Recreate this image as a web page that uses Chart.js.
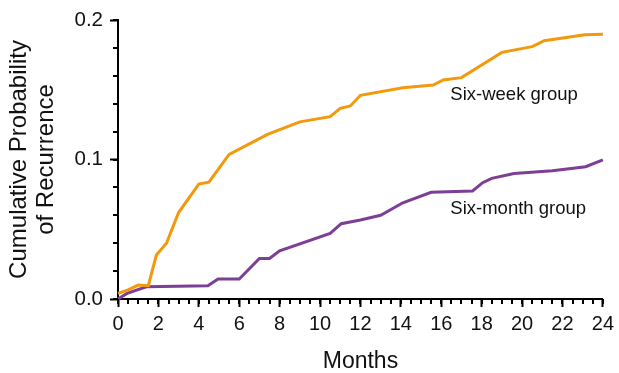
<!DOCTYPE html>
<html lang="en">
<head>
    <meta charset="UTF-8">
    <script src="https://cdn.jsdelivr.net/npm/chart.js@4.4.0/dist/chart.umd.min.js"></script>
    <title>Cumulative Probability of Recurrence</title>
    <style>
        body {margin: 0; background: #fff;}
        #wrap {width: 619px; height: 373px;}
    </style>
</head>
<body>
    <div id="wrap">
        <canvas id="chart"></canvas>
    </div>

    <script>
    // months and cumulative probability
    const weekMonths = [0, 0.5, 1.0, 1.5, 1.9, 2.4, 3.0, 4.0, 4.5, 5.5, 7.4, 9.0, 10.5, 11.0, 11.5, 12.0, 14.1, 15.6, 16.1, 17.0, 19.0, 20.5, 21.1, 23.1, 24];
    const weekRisk   = [0.004, 0.0065, 0.010, 0.0095, 0.0315, 0.040, 0.062, 0.0824, 0.0837, 0.1037, 0.118, 0.127, 0.1307, 0.1367, 0.1384, 0.146, 0.1515, 0.1534, 0.157, 0.1587, 0.1768, 0.1809, 0.1852, 0.1895, 0.1897];

    const monthMonths = [0, 0.45, 1.4, 4.45, 4.95, 6.0, 7.0, 7.5, 8.0, 10.5, 11.05, 12.0, 13.0, 14.1, 15.5, 17.55, 18.05, 18.5, 19.6, 21.5, 23.15, 24];
    const monthRisk   = [0, 0.004, 0.0088, 0.0095, 0.0143, 0.0143, 0.029, 0.029, 0.0346, 0.047, 0.054, 0.0566, 0.060, 0.069, 0.0765, 0.0774, 0.0834, 0.0865, 0.090, 0.092, 0.0948, 0.0997];

    const groupNames = ['Six-week group', 'Six-month group'];
    // where the group names sit, in data units (month, probability)
    const labelSpots = [[16.45, 0.1465], [16.45, 0.0648]];

    const xTicks = [0, 24, 2, 0.5];      // min, max, major step, minor step
    const yTicks = [0, 0.2, 0.1, 0.02];

    const ORANGE = 'rgb(243, 153, 12)';
    const PURPLE = 'rgb(125, 62, 150)';

    function pairs(xs, ys) {
        return xs.map((x, i) => ({x: x, y: ys[i]}));
    }

    // minor tick marks and the group names
    const extras = {
        id: 'extras',
        afterDraw(chart) {
            const ctx = chart.ctx;
            const xs = chart.scales.x, ys = chart.scales.y;
            ctx.save();
            ctx.strokeStyle = '#000';
            ctx.lineWidth = 2;
            ctx.beginPath();
            for (let v = xTicks[0]; v <= xTicks[1] + 1e-9; v += xTicks[3]) {
                const px = Math.round(xs.getPixelForValue(v));
                ctx.moveTo(px, ys.bottom);
                ctx.lineTo(px, ys.bottom + 5);
            }
            for (let v = yTicks[0]; v <= yTicks[1] + 1e-9; v += yTicks[3]) {
                const py = Math.round(ys.getPixelForValue(v));
                ctx.moveTo(xs.left, py);
                ctx.lineTo(xs.left - 5, py);
            }
            ctx.stroke();

            ctx.fillStyle = '#111';
            ctx.font = '18.5px "Liberation Sans", Arial, sans-serif';
            ctx.textBaseline = 'middle';
            groupNames.forEach((name, i) => {
                ctx.fillText(name, xs.getPixelForValue(labelSpots[i][0]), ys.getPixelForValue(labelSpots[i][1]));
            });
            ctx.restore();
        }
    };

    const ctx = document.getElementById('chart').getContext('2d');
    Chart.defaults.font.family = '"Liberation Sans", Arial, sans-serif';
    Chart.defaults.color = '#111';

    const config = {
        type: 'line',
        data: {
            datasets: [{
                label: groupNames[0],
                data: pairs(weekMonths, weekRisk),
                borderColor: ORANGE,
                borderWidth: 3,
                pointRadius: 0,
                tension: 0,
                clip: false
            }, {
                label: groupNames[1],
                data: pairs(monthMonths, monthRisk),
                borderColor: PURPLE,
                borderWidth: 3,
                pointRadius: 0,
                tension: 0,
                clip: false
            }]
        },
        options: {
            responsive: false,
            animation: false,
            devicePixelRatio: 1,
            layout: {padding: {left: 0, right: 15, top: 20, bottom: 0}},
            plugins: {legend: {display: false}, tooltip: {enabled: false}},
            scales: {
                x: {
                    type: 'linear',
                    min: xTicks[0],
                    max: xTicks[1],
                    afterFit: s => { s.height = 74; },
                    border: {color: '#000', width: 2},
                    grid: {drawOnChartArea: false, drawTicks: true, tickLength: 8, tickColor: '#000', tickWidth: 2},
                    ticks: {stepSize: xTicks[2], padding: 5, font: {size: 20}, maxRotation: 0},
                    title: {display: true, text: 'Months', font: {size: 23, lineHeight: 1.0}, padding: 0}
                },
                y: {
                    min: yTicks[0],
                    max: yTicks[1],
                    afterFit: s => { s.width = 118; },
                    border: {color: '#000', width: 2},
                    grid: {drawOnChartArea: false, drawTicks: true, tickLength: 8, tickColor: '#000', tickWidth: 2},
                    ticks: {stepSize: yTicks[2], padding: 7, font: {size: 20.5}, callback: v => v.toFixed(1)},
                    title: {display: true, text: ['Cumulative Probability', 'of Recurrence'], font: {size: 24, lineHeight: 1.125}, padding: {top: 6, bottom: 0}}
                }
            }
        },
        plugins: [extras]
    };

    const canvas = document.getElementById('chart');
    canvas.width = 619;
    canvas.height = 373;
    new Chart(ctx, config);
    </script>
</body>
</html>
